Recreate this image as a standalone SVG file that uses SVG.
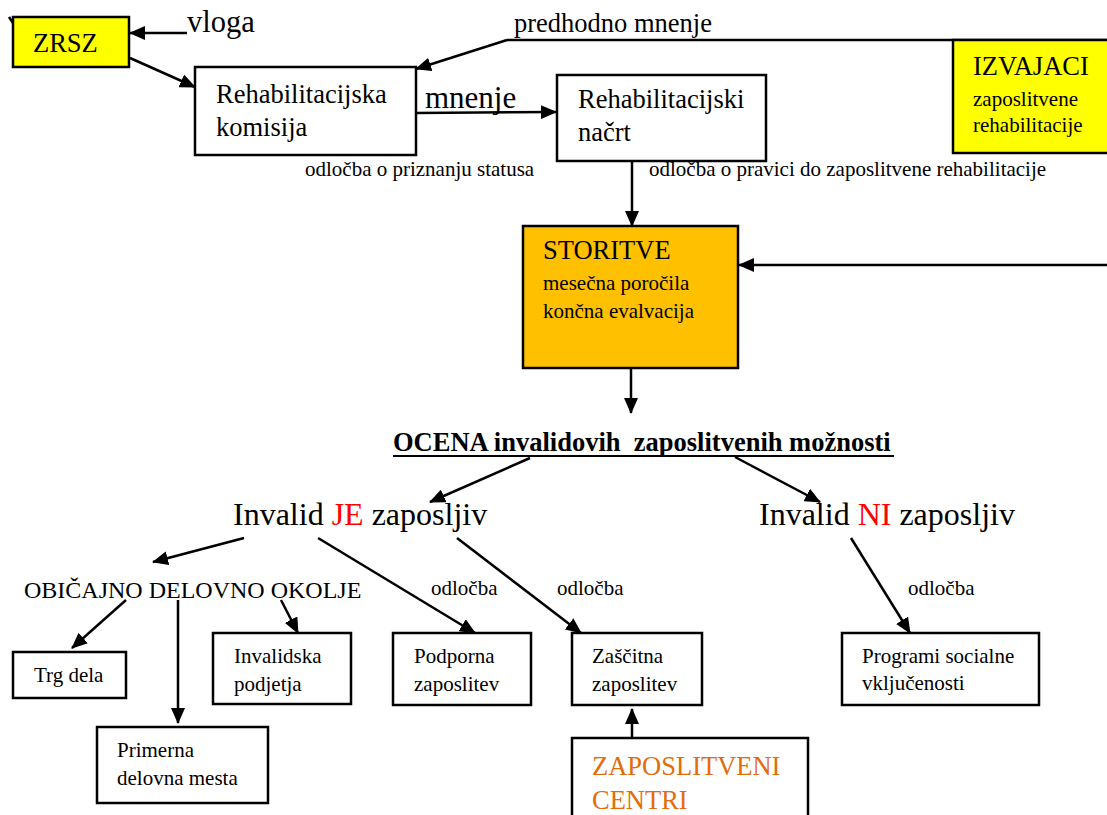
<svg xmlns="http://www.w3.org/2000/svg" width="1107" height="815" viewBox="0 0 1107 815" font-family="'Liberation Serif', 'Times New Roman', Times, serif">
<defs>
<marker id="ah" markerUnits="userSpaceOnUse" markerWidth="16" markerHeight="14" refX="15" refY="7" orient="auto">
<path d="M0,0 L16,7 L0,14 z" fill="#000"/>
</marker>
<style>
text{font-family:'Liberation Serif','Times New Roman',Times,serif;fill:#000}
.box{fill:#fff;stroke:#000;stroke-width:2.5}
.yel{fill:#ffff00;stroke:#000;stroke-width:2.5}
.org{fill:#ffc000;stroke:#000;stroke-width:2.5}
.c{fill:none;stroke:#000;stroke-width:2.5;marker-end:url(#ah)}
.ln{fill:none;stroke:#000;stroke-width:2.5}
.s{font-size:21px}
.m{font-size:26.5px}
.l{font-size:32px}
.red{fill:#ff0000}
.or{fill:#e36c0a}
</style>
</defs>
<rect width="1107" height="815" fill="#fff"/>

<g id="connectors">
<path class="ln" d="M9,17 L13,23"/>
<path class="c" d="M187,33 L130,33"/>
<path class="c" d="M130,58 L195,87"/>
<path class="ln" d="M1107,40 L507,40"/>
<path class="c" d="M507,40 L416,69"/>
<path class="c" d="M416,113 L556,112"/>
<path class="c" d="M632,161 L632,226"/>
<path class="c" d="M1107,265 L739,265"/>
<path class="c" d="M631,368 L631,413"/>
<path class="c" d="M530,458 L430,502"/>
<path class="c" d="M735,457 L820,502"/>
<path class="c" d="M244,538 L153,562"/>
<path class="c" d="M318,538 L475,633"/>
<path class="c" d="M457,538 L581,633"/>
<path class="c" d="M851,538 L910,633"/>
<path class="c" d="M126,600 L72,648"/>
<path class="c" d="M178,600 L178,723"/>
<path class="c" d="M281,600 L298,633"/>
<path class="c" d="M632,738 L632,709"/>
</g>

<g id="labels">
<text x="187" y="32" font-family="Liberation Serif, serif" style="font-size:30.5px">vloga</text>
<text x="514" y="32" font-family="Liberation Serif, serif" class="m">predhodno mnenje</text>
<text x="425" y="108" font-family="Liberation Serif, serif" style="font-size:31px">mnenje</text>
<text x="305" y="176" font-family="Liberation Serif, serif" class="s">odločba o priznanju statusa</text>
<text x="649" y="176" font-family="Liberation Serif, serif" class="s">odločba o pravici do zaposlitvene rehabilitacije</text>
<text x="393" y="451" font-family="Liberation Serif, serif" style="font-size:26.5px;font-weight:bold;white-space:pre" xml:space="preserve">OCENA invalidovih  zaposlitvenih možnosti</text>
<line x1="393" y1="456" x2="894" y2="456" stroke="#000" stroke-width="2"/>
<text x="24" y="598" font-family="Liberation Serif, serif" style="font-size:24px">OBIČAJNO DELOVNO OKOLJE</text>
<text x="431" y="595" font-family="Liberation Serif, serif" class="s">odločba</text>
<text x="557" y="595" font-family="Liberation Serif, serif" class="s">odločba</text>
<text x="908" y="595" font-family="Liberation Serif, serif" class="s">odločba</text>
</g>

<g id="zrsz" font-family="Liberation Serif, serif">
<rect class="yel" x="13" y="17" width="116" height="50"/>
<text x="33" y="52" style="font-size:26.5px">ZRSZ</text>
</g>

<g id="rehab-komisija" font-family="Liberation Serif, serif">
<rect class="box" x="195" y="67" width="221" height="88"/>
<text x="216" y="103" class="m">Rehabilitacijska</text>
<text x="216" y="136" class="m">komisija</text>
</g>

<g id="rehab-nacrt" font-family="Liberation Serif, serif">
<rect class="box" x="557" y="75" width="209" height="86"/>
<text x="578" y="108" class="m">Rehabilitacijski</text>
<text x="578" y="141" class="m">načrt</text>
</g>

<g id="izvajaci" font-family="Liberation Serif, serif">
<rect class="yel" x="953" y="40" width="170" height="113"/>
<text x="973" y="75" class="m">IZVAJACI</text>
<text x="973" y="106" class="s">zaposlitvene</text>
<text x="973" y="132" class="s">rehabilitacije</text>
</g>

<g id="storitve" font-family="Liberation Serif, serif">
<rect class="org" x="523" y="226" width="215" height="142"/>
<text x="543" y="259" class="m">STORITVE</text>
<text x="543" y="290" class="s">mesečna poročila</text>
<text x="543" y="318" class="s">končna evalvacija</text>
</g>

<g id="invalid-je" font-family="Liberation Serif, serif">
<text x="233" y="525" class="l">Invalid <tspan class="red">JE</tspan> zaposljiv</text>
</g>

<g id="invalid-ni" font-family="Liberation Serif, serif">
<text x="759" y="525" class="l">Invalid <tspan class="red">NI</tspan> zaposljiv</text>
</g>

<g id="trg-dela" font-family="Liberation Serif, serif">
<rect class="box" x="13" y="652" width="113" height="46"/>
<text x="34" y="682" class="s">Trg dela</text>
</g>

<g id="primerna" font-family="Liberation Serif, serif">
<rect class="box" x="97" y="727" width="171" height="76"/>
<text x="117" y="757" class="s">Primerna</text>
<text x="117" y="785" class="s">delovna mesta</text>
</g>

<g id="invalidska" font-family="Liberation Serif, serif">
<rect class="box" x="213" y="633" width="138" height="71"/>
<text x="234" y="663" class="s">Invalidska</text>
<text x="234" y="691" class="s">podjetja</text>
</g>

<g id="podporna" font-family="Liberation Serif, serif">
<rect class="box" x="393" y="633" width="138" height="72"/>
<text x="414" y="663" class="s">Podporna</text>
<text x="414" y="691" class="s">zaposlitev</text>
</g>

<g id="zascitna" font-family="Liberation Serif, serif">
<rect class="box" x="572" y="633" width="130" height="72"/>
<text x="592" y="663" class="s">Zaščitna</text>
<text x="592" y="691" class="s">zaposlitev</text>
</g>

<g id="programi" font-family="Liberation Serif, serif">
<rect class="box" x="842" y="633" width="197" height="72"/>
<text x="862" y="663" class="s">Programi socialne</text>
<text x="862" y="690" class="s">vključenosti</text>
</g>

<g id="zaposlitveni-centri" font-family="Liberation Serif, serif">
<rect class="box" x="572" y="738" width="236" height="100"/>
<text x="592" y="775" class="m or">ZAPOSLITVENI</text>
<text x="592" y="809" class="m or">CENTRI</text>
</g>
</svg>
